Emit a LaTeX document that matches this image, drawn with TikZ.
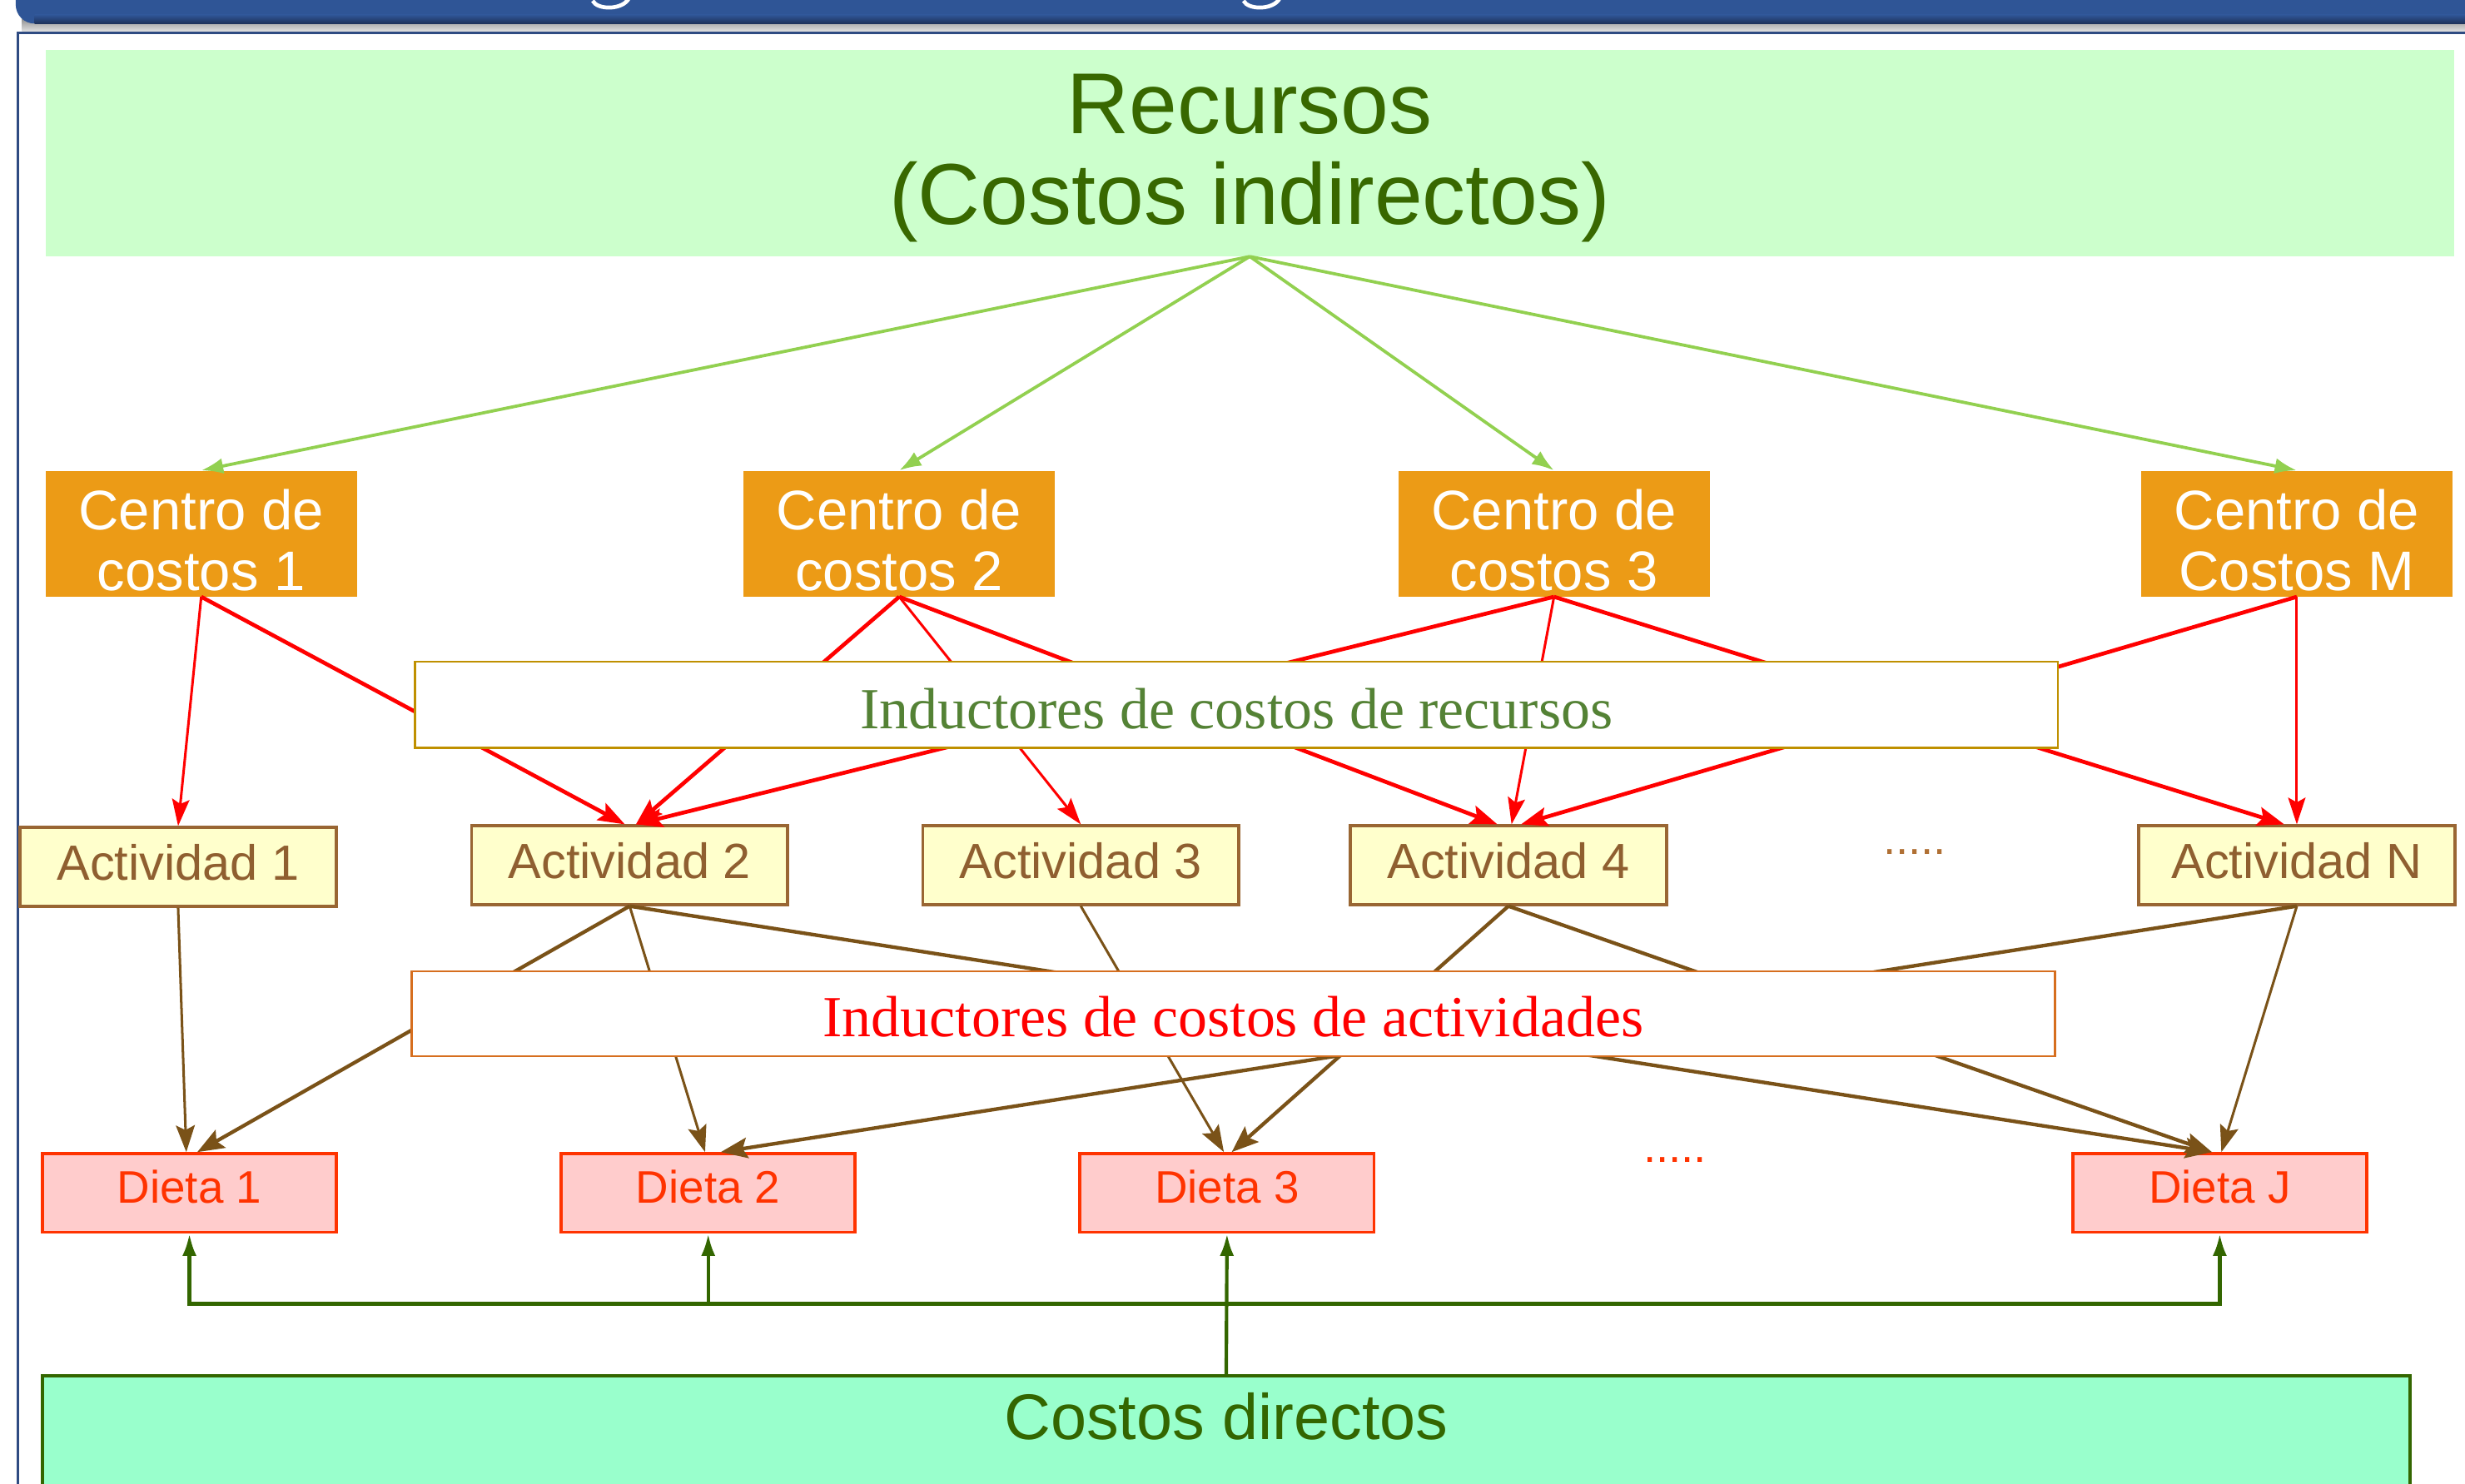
\documentclass[tikz,border=0pt]{standalone}
\usepackage{fontspec}
\setmainfont{Liberation Serif}
\newfontfamily\arialx{Liberation Sans}
\usetikzlibrary{arrows.meta}
\definecolor{barblue}{RGB}{47,85,150}
\definecolor{bardark}{RGB}{30,50,90}
\definecolor{framecol}{RGB}{47,75,130}
\definecolor{recfill}{RGB}{204,255,204}
\definecolor{recgreen}{RGB}{56,104,0}
\definecolor{corange}{RGB}{236,155,22}
\definecolor{lgreen}{RGB}{146,208,80}
\definecolor{goldb}{RGB}{191,144,0}
\definecolor{indgreen}{RGB}{84,130,53}
\definecolor{actfill}{RGB}{255,255,204}
\definecolor{actbrown}{RGB}{153,102,51}
\definecolor{acttext}{RGB}{143,95,48}
\definecolor{arrbrown}{RGB}{122,82,24}
\definecolor{ind2col}{RGB}{214,110,30}
\definecolor{dietafill}{RGB}{255,204,204}
\definecolor{dietared}{RGB}{255,51,0}
\definecolor{cdfill}{RGB}{153,255,204}
\definecolor{cdgreen}{RGB}{51,102,0}
\definecolor{dotbrown}{RGB}{176,112,52}
\begin{document}
\begin{tikzpicture}[x=1pt,y=-1pt,
  recbox/.style={fill=recfill, draw=none, minimum width=1532pt, minimum height=131pt, inner sep=0pt,
    text=recgreen, align=center, text depth=5pt, font=\arialx\fontsize{55}{58}\selectfont},
  centro/.style={fill=corange, draw=none, minimum width=198pt, minimum height=80pt, inner sep=0pt,
    text=white, align=center, text height=72.5pt, text depth=0pt, font=\arialx\fontsize{35.5}{38.5}\selectfont},
  indrec/.style={fill=white, draw=goldb, line width=1.5pt, minimum width=1045pt, minimum height=55pt,
    inner sep=0pt, text=indgreen, text height=31pt, font=\fontsize{37}{40}\selectfont},
  indact/.style={fill=white, draw=ind2col, line width=1.5pt, minimum width=1045pt, minimum height=54pt,
    inner sep=0pt, text=red, text height=29pt, font=\fontsize{37}{40}\selectfont},
  actbox/.style={fill=actfill, draw=actbrown, line width=2pt, minimum width=201pt, minimum height=50pt,
    inner sep=0pt, text=acttext, text depth=6pt, font=\arialx\fontsize{31.5}{33}\selectfont},
  dietabox/.style={fill=dietafill, draw=dietared, line width=2pt, minimum width=187pt, minimum height=50pt,
    inner sep=0pt, text=dietared, text depth=8pt, font=\arialx\fontsize{29}{31}\selectfont},
  cdbox/.style={fill=cdfill, draw=cdgreen, line width=2pt, minimum width=1506pt, inner sep=0pt,
    text height=40.5pt, text depth=37pt, text=cdgreen, font=\arialx\fontsize{41}{44}\selectfont},
  dotsnode/.style={inner sep=0pt, font=\arialx\fontsize{29}{31}\selectfont},
  garrow/.style={draw=lgreen, line width=2pt, -{Latex[length=14pt,width=10pt]}},
  rthin/.style={draw=red, line width=1.6pt, -{Stealth[length=17pt,width=11pt,inset=3pt]}},
  rthick/.style={draw=red, line width=2.5pt, -{Stealth[length=17pt,width=12pt,inset=3pt]}},
  bthin/.style={draw=arrbrown, line width=1.6pt, -{Stealth[length=17pt,width=12pt,inset=3pt]}},
  bthick/.style={draw=arrbrown, line width=2.3pt, -{Stealth[length=17pt,width=13pt,inset=3pt]}},
  dgarrow/.style={draw=cdgreen, line width=2.2pt, -{Latex[length=14pt,width=9pt]}}
]
\useasboundingbox (0,0) rectangle (1568,944);
% title bar
\shade[top color=gray!85, bottom color=gray!25] (14,12) rectangle (1568,19.8);
\fill[barblue, rounded corners=12pt] (10,-40) rectangle (1600,15);
\shade[top color=barblue, bottom color=bardark] (22,9.5) rectangle (1568,15);
\draw[white, line width=2.5pt] (377,0.5) .. controls (380,6.5) and (396,6.5) .. (400,-1);
\draw[white, line width=2.5pt] (791,0.5) .. controls (794,6.5) and (810,6.5) .. (814,-1);
\draw[framecol, line width=1.5pt] (11.5,944) -- (11.5,20.7) -- (1568,20.7);

% nodes
\node[recbox] (rec) at (795,97.5) {Recursos\\(Costos indirectos)};
\node[centro] (c1) at (128,339.5) {Centro de\\costos 1};
\node[centro] (c2) at (572,339.5) {Centro de\\costos 2};
\node[centro] (c3) at (988.5,339.5) {Centro de\\costos 3};
\node[centro] (cm) at (1461,339.5) {Centro de\\Costos M};

\node[actbox] (a1) at (113.3,551.5) {Actividad 1};
\node[actbox] (a2) at (400.5,550.5) {Actividad 2};
\node[actbox] (a3) at (687.5,550.5) {Actividad 3};
\node[actbox] (a4) at (959.5,550.5) {Actividad 4};
\node[actbox] (an) at (1461,550.5) {Actividad N};
\node[dotsnode, text=dotbrown] (dots1) at (1218,542) {.....};

\node[dietabox] (d1) at (120.5,759) {Dieta 1};
\node[dietabox] (d2) at (450.5,759) {Dieta 2};
\node[dietabox] (d3) at (780.5,759) {Dieta 3};
\node[dietabox] (dj) at (1412,759) {Dieta J};
\node[dotsnode, text=dietared] (dots2) at (1065.5,738) {.....};

\node[cdbox, anchor=north] (cd) at (780,874.5) {Costos directos};

% green arrows
\draw[garrow] (rec.south) -- (c1.north);
\draw[garrow] (rec.south) -- (c2.north);
\draw[garrow] (rec.south) -- (c3.north);
\draw[garrow] (rec.south) -- (cm.north);

% red arrows
\draw[rthin]  (c1.south) -- (a1.north);
\draw[rthick] (c1.south) -- ([xshift=-3pt]a2.north);
\draw[rthick] (c2.south) -- ([xshift=4pt]a2.north);
\draw[rthin]  (c2.south) -- (a3.north);
\draw[rthick] (c2.south) -- ([xshift=-7pt]a4.north);
\draw[rthick] (c3.south) -- ([xshift=4pt]a2.north);
\draw[rthin]  (c3.south) -- ([xshift=2pt]a4.north);
\draw[rthick] (c3.south) -- ([xshift=-8pt]an.north);
\draw[rthick] (cm.south) -- ([xshift=8pt]a4.north);
\draw[rthin]  (cm.south) -- (an.north);
\node[indrec] (ir) at (786.5,448.5) {Inductores de costos de recursos};

% brown arrows
\draw[bthin]  (a1.south) -- ([xshift=-2pt]d1.north);
\draw[bthick] (a2.south) -- ([xshift=5pt]d1.north);
\draw[bthin]  (a2.south) -- ([xshift=-2pt]d2.north);
\draw[bthick] (a2.south) -- ([xshift=-5pt]dj.north);
\draw[bthin]  (a3.south) -- ([xshift=-2pt]d3.north);
\draw[bthick] (a4.south) -- ([xshift=3pt]d3.north);
\draw[bthick] (a4.south) -- ([xshift=-5pt]dj.north);
\draw[bthick] (an.south) -- ([xshift=8pt]d2.north);
\draw[bthin]  (an.south) -- ([xshift=1pt]dj.north);
\node[indact] (ia) at (784.5,645) {Inductores de costos de actividades};

% direct costs
\coordinate (bus) at (780,829.5);
\draw[dgarrow] (cd.north) -- (d3.south);
\draw[dgarrow] (bus) -| (d1.south);
\draw[dgarrow] (bus) -| (d2.south);
\draw[dgarrow] (bus) -| (dj.south);
\end{tikzpicture}
\end{document}
